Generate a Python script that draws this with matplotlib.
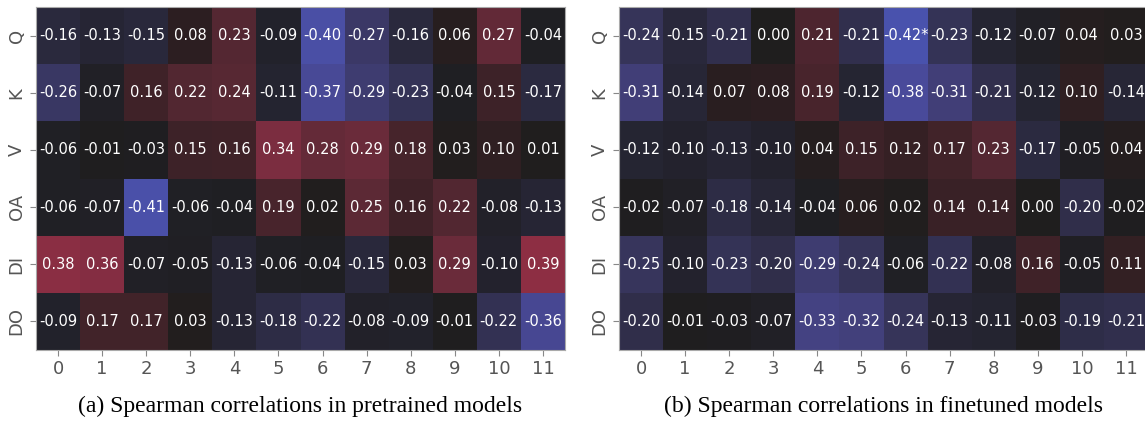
import numpy as np
import matplotlib
matplotlib.use("Agg")
import matplotlib.pyplot as plt
import seaborn as sns

plt.rcParams["font.family"] = ["DejaVu Sans"]

rows = ["Q", "K", "V", "OA", "DI", "DO"]
layers = [str(i) for i in range(12)]

pre_Q  = [-0.16, -0.13, -0.15, 0.08, 0.23, -0.09, -0.40, -0.27, -0.16, 0.06, 0.27, -0.04]
pre_K  = [-0.26, -0.07, 0.16, 0.22, 0.24, -0.11, -0.37, -0.29, -0.23, -0.04, 0.15, -0.17]
pre_V  = [-0.06, -0.01, -0.03, 0.15, 0.16, 0.34, 0.28, 0.29, 0.18, 0.03, 0.10, 0.01]
pre_OA = [-0.06, -0.07, -0.41, -0.06, -0.04, 0.19, 0.02, 0.25, 0.16, 0.22, -0.08, -0.13]
pre_DI = [0.38, 0.36, -0.07, -0.05, -0.13, -0.06, -0.04, -0.15, 0.03, 0.29, -0.10, 0.39]
pre_DO = [-0.09, 0.17, 0.17, 0.03, -0.13, -0.18, -0.22, -0.08, -0.09, -0.01, -0.22, -0.36]

fin_Q  = [-0.24, -0.15, -0.21, 0.00, 0.21, -0.21, -0.42, -0.23, -0.12, -0.07, 0.04, 0.03]
fin_K  = [-0.31, -0.14, 0.07, 0.08, 0.19, -0.12, -0.38, -0.31, -0.21, -0.12, 0.10, -0.14]
fin_V  = [-0.12, -0.10, -0.13, -0.10, 0.04, 0.15, 0.12, 0.17, 0.23, -0.17, -0.05, 0.04]
fin_OA = [-0.02, -0.07, -0.18, -0.14, -0.04, 0.06, 0.02, 0.14, 0.14, 0.00, -0.20, -0.02]
fin_DI = [-0.25, -0.10, -0.23, -0.20, -0.29, -0.24, -0.06, -0.22, -0.08, 0.16, -0.05, 0.11]
fin_DO = [-0.20, -0.01, -0.03, -0.07, -0.33, -0.32, -0.24, -0.13, -0.11, -0.03, -0.19, -0.21]

# significance marks (row, col) in finetuned map
fin_star = [(0, 6)]

pre = np.array([pre_Q, pre_K, pre_V, pre_OA, pre_DI, pre_DO])
fin = np.array([fin_Q, fin_K, fin_V, fin_OA, fin_DI, fin_DO])

def labels(mat, stars=()):
    lab = np.array([[f"{v:.2f}" for v in r] for r in mat], dtype=object)
    for (r, c) in stars:
        lab[r, c] = lab[r, c] + "*"
    return lab

fig = plt.figure(figsize=(11.45, 4.21), dpi=100)
W = 529 / 1145
B = (421 - 350) / 421
H = 343 / 421
ax1 = fig.add_axes([36 / 1145, B, W, H])
ax2 = fig.add_axes([619 / 1145, B, W, H])

for ax, mat, lab, cap in [(ax1, pre, labels(pre), "(a) Spearman correlations in pretrained models"),
                          (ax2, fin, labels(fin, fin_star), "(b) Spearman correlations in finetuned models")]:
    sns.heatmap(mat, ax=ax, cmap="icefire", vmin=-1, vmax=1, cbar=False,
                annot=lab, fmt="", annot_kws={"fontsize": 10.5, "color": "white", "family": "DejaVu Sans"},
                xticklabels=layers, yticklabels=rows)
    ax.tick_params(axis="both", colors="#888888", labelcolor="#555555", labelsize=13, length=4, width=0.8)
    ax.set_yticklabels(rows, rotation=90, va="center")
    ax.set_xticklabels(layers, rotation=0)
    for s in ax.spines.values():
        s.set_visible(True)
        s.set_color("#aaaaaa")
        s.set_linewidth(0.8)
    ax.text(0.5, -0.165, cap, transform=ax.transAxes, ha="center", va="center",
            fontsize=17, family="Liberation Serif")

fig.savefig("out.png", dpi=100)
